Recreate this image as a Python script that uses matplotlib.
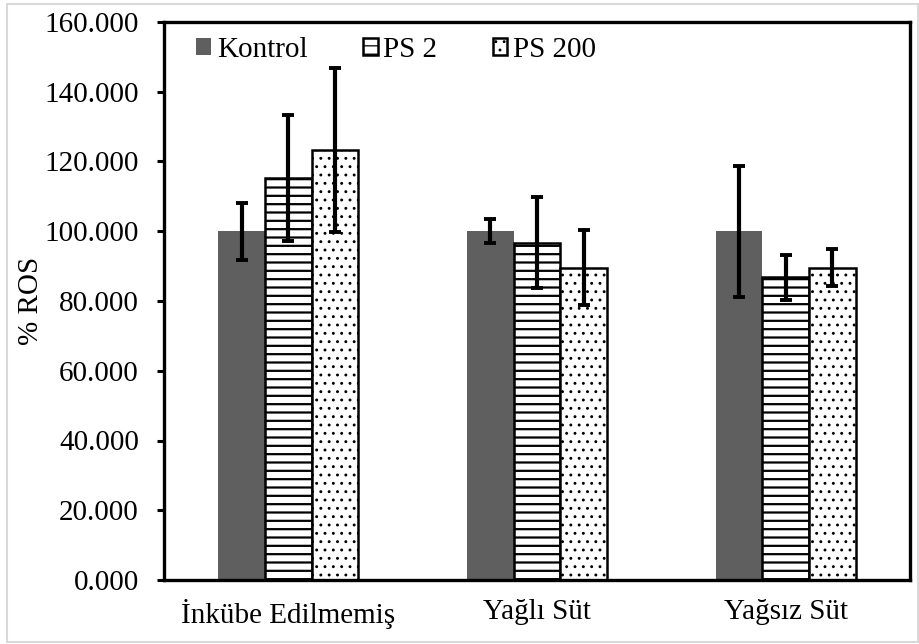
import matplotlib
matplotlib.use("Agg")
import matplotlib.pyplot as plt
import numpy as np
from matplotlib.patches import Rectangle

categories = ["İnkübe Edilmemiş", "Yağlı Süt", "Yağsız Süt"]
series_names = ["Kontrol", "PS 2", "PS 200"]
kontrol = [100.0, 100.0, 100.0]
kontrol_err = [8.2, 3.5, 18.8]
ps2 = [115.3, 96.7, 86.8]
ps2_err = [18.0, 13.0, 6.4]
ps200 = [123.3, 89.6, 89.6]
ps200_err = [23.5, 10.7, 5.3]
yticks = [0, 20, 40, 60, 80, 100, 120, 140, 160]

plt.rcParams['font.family'] = ['Liberation Serif', 'DejaVu Serif']
plt.rcParams['hatch.linewidth'] = 1.6
fs = 21

fig = plt.figure(figsize=(9.2, 6.44), dpi=100)
ax = fig.add_axes([164/920, 1-580/644, 746/920, 558/644])

x = np.arange(len(categories))
w = 0.188
err_kw = dict(ecolor='black', elinewidth=3.0, capsize=4.2, capthick=2.8)

ax.bar(x - w, kontrol, w, color='#5f5f5f', edgecolor='#5f5f5f', linewidth=0,
       yerr=kontrol_err, error_kw=err_kw, label=series_names[0], zorder=2)
ax.bar(x, ps2, w, color='white', edgecolor='black', linewidth=1.8, hatch='--',
       yerr=ps2_err, error_kw=err_kw, label=series_names[1], zorder=2)
plt.rcParams['hatch.linewidth'] = 0.9
b3 = ax.bar(x + w, ps200, w, color='white', edgecolor='black', linewidth=1.8, hatch='..',
            yerr=ps200_err, error_kw=err_kw, label=series_names[2], zorder=2)
for p in b3.patches:
    if hasattr(p, 'set_hatch_linewidth'):
        p.set_hatch_linewidth(0.9)

ax.set_xlim(-0.5, 2.5)
ax.set_ylim(0, 160)
ax.set_yticks(yticks)
ax.set_yticklabels([f"{v:.3f}" for v in yticks], fontsize=fs)
ax.set_xticks(x)
ax.set_xticklabels(categories, fontsize=fs)
ax.tick_params(axis='x', length=0, pad=14)
ax.tick_params(axis='y', length=5, width=2.2, pad=13, direction='out')
for s in ax.spines.values():
    s.set_linewidth(2.4)
    s.set_color('black')
ax.set_ylabel("% ROS", fontsize=fs, labelpad=0)

leg = ax.legend(loc='upper left', bbox_to_anchor=(0.024, 1.0), ncol=3, frameon=False,
                fontsize=fs, handlelength=0.5, handleheight=0.5, handletextpad=0.2,
                columnspacing=1.9, borderaxespad=0.1)

# light gray outer border
fig.patches.append(Rectangle((7/920, 2/644), 911/920, 638/644, transform=fig.transFigure,
                             fill=False, edgecolor='#d9d9d9', linewidth=1.5))

fig.savefig("out.png", dpi=100)
